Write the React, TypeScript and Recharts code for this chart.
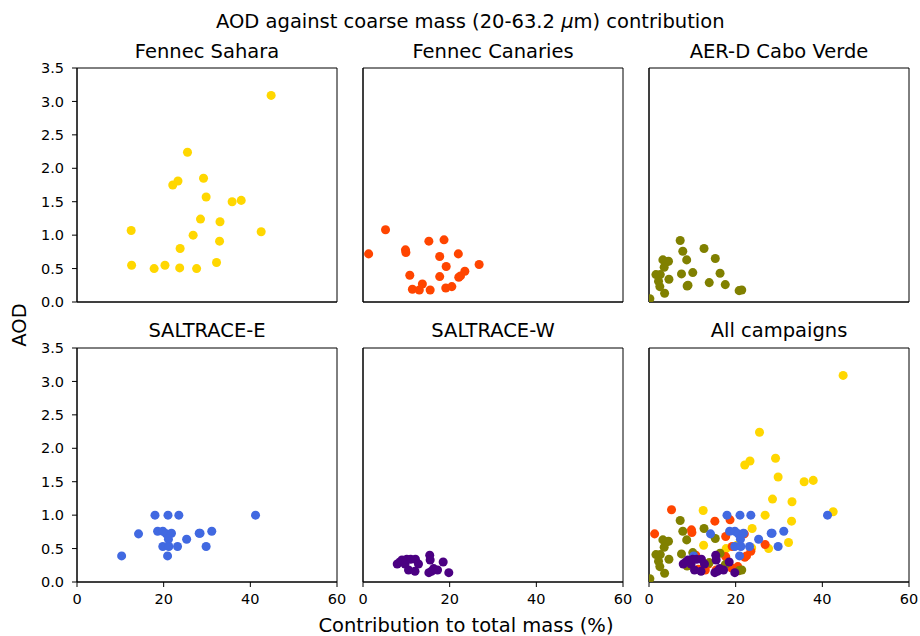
import React from "react";
import { ScatterChart, Scatter, XAxis, YAxis, ZAxis, ReferenceArea } from "recharts";

const saharaX = [44.8, 25.5, 23.3, 22.1, 29.2, 29.8, 35.8, 37.9, 28.5, 33.0, 12.5, 26.8, 42.5, 32.9, 23.8, 12.6, 17.8, 20.3, 23.7, 27.6, 32.2];
const saharaY = [3.09, 2.24, 1.81, 1.75, 1.85, 1.57, 1.50, 1.52, 1.24, 1.20, 1.07, 1.00, 1.05, 0.91, 0.80, 0.55, 0.50, 0.55, 0.51, 0.50, 0.59];

const canariesX = [1.3, 5.2, 9.8, 9.9, 10.8, 11.4, 13.0, 13.7, 15.5, 15.2, 17.7, 17.7, 18.7, 19.2, 19.1, 20.5, 22.0, 22.1, 22.5, 23.5, 26.8];
const canariesY = [0.72, 1.08, 0.78, 0.74, 0.40, 0.19, 0.18, 0.27, 0.18, 0.91, 0.68, 0.38, 0.93, 0.53, 0.21, 0.23, 0.72, 0.37, 0.39, 0.46, 0.56];

const caboX = [0.2, 7.2, 7.8, 12.7, 8.7, 15.3, 3.2, 4.5, 4.1, 3.5, 1.6, 2.6, 2.2, 2.5, 3.6, 4.6, 7.5, 10.1, 8.8, 9.0, 13.9, 16.4, 17.6, 20.8, 21.4];
const caboY = [0.05, 0.92, 0.76, 0.80, 0.63, 0.65, 0.63, 0.61, 0.60, 0.52, 0.41, 0.41, 0.31, 0.23, 0.13, 0.34, 0.42, 0.44, 0.24, 0.25, 0.29, 0.43, 0.26, 0.17, 0.18];

const saltEX = [10.3, 14.2, 18.0, 21.0, 23.5, 41.2, 18.6, 19.8, 20.6, 21.8, 21.1, 19.8, 21.2, 20.9, 23.2, 25.3, 28.2, 28.4, 31.1, 29.8];
const saltEY = [0.39, 0.72, 1.0, 1.0, 1.0, 1.0, 0.76, 0.76, 0.72, 0.73, 0.64, 0.53, 0.53, 0.39, 0.53, 0.64, 0.73, 0.73, 0.76, 0.53];

const saltWX = [7.9, 8.5, 9.0, 9.7, 10.1, 11.0, 12.1, 12.8, 10.5, 12.0, 15.4, 15.5, 15.2, 15.8, 16.3, 17.2, 18.5, 19.8];
const saltWY = [0.27, 0.30, 0.33, 0.27, 0.34, 0.34, 0.34, 0.27, 0.18, 0.16, 0.40, 0.33, 0.14, 0.16, 0.20, 0.18, 0.30, 0.14];

const xTicks = [0, 20, 40, 60];
const yTicks = [0, 0.5, 1.0, 1.5, 2.0, 2.5, 3.0, 3.5];

const mainTitle = "AOD against coarse mass (20-63.2 ";
const xLabel = "Contribution to total mass (%)";
const yLabel = "AOD";

const toPts = (xs: number[], ys: number[]) => xs.map((x, i) => ({ x, y: ys[i] }));

const campaigns = [
  { name: "Fennec Sahara", color: "#FFD700", data: toPts(saharaX, saharaY) },
  { name: "Fennec Canaries", color: "#FF4500", data: toPts(canariesX, canariesY) },
  { name: "AER-D Cabo Verde", color: "#808000", data: toPts(caboX, caboY) },
  { name: "SALTRACE-E", color: "#4169E1", data: toPts(saltEX, saltEY) },
  { name: "SALTRACE-W", color: "#4B0082", data: toPts(saltWX, saltWY) },
];

const FONT = "'DejaVu Sans', sans-serif";
const PW = 260;
const PH = 234;
const colLeft = [77, 363, 649];
const rowTop = [68, 347.5];
const ML = 60;
const MT = 10;
const MR = 10;
const MB = 34;

type Series = { name: string; color: string; data: { x: number; y: number }[] };

function Panel({ series, showXLabels, showYLabels, left, top }: { series: Series[]; showXLabels: boolean; showYLabels: boolean; left: number; top: number }) {
  const tickStyle = { fill: "#000", fontSize: 14.5, fontFamily: FONT };
  return (
    <div style={{ position: "absolute", left: left - ML, top: top - MT }}>
      <ScatterChart width={ML + PW + MR} height={MT + PH + MB} margin={{ top: MT, right: MR, bottom: 0, left: 0 }}>
        <XAxis
          dataKey="x"
          type="number"
          domain={[0, 60]}
          ticks={xTicks}
          height={MB}
          tickSize={5}
          tickMargin={7}
          stroke="#000"
          tick={showXLabels ? tickStyle : false}
          tickLine={{ stroke: "#000" }}
          allowDataOverflow
        />
        <YAxis
          dataKey="y"
          type="number"
          domain={[0, 3.5]}
          ticks={yTicks}
          width={ML}
          tickSize={5}
          tickMargin={8}
          stroke="#000"
          tick={showYLabels ? tickStyle : false}
          tickLine={{ stroke: "#000" }}
          tickFormatter={(v: number) => v.toFixed(1)}
          allowDataOverflow
        />
        <ZAxis range={[66, 66]} />
        <ReferenceArea x1={0} x2={60} y1={0} y2={3.5} fill="none" fillOpacity={0} stroke="#000" strokeWidth={1} ifOverflow="visible" />
        {series.map((s) => (
          <Scatter key={s.name} name={s.name} data={s.data} fill={s.color} isAnimationActive={false} />
        ))}
      </ScatterChart>
    </div>
  );
}

const titleStyle = (cx: number, cy: number): React.CSSProperties => ({
  position: "absolute",
  left: cx - 250,
  width: 500,
  top: cy - 13,
  height: 26,
  lineHeight: "26px",
  textAlign: "center",
  fontFamily: FONT,
  fontSize: 19.5,
  color: "#000",
  whiteSpace: "nowrap",
});

export default function App() {
  const panels = [
    { title: campaigns[0].name, series: [campaigns[0]], r: 0, c: 0 },
    { title: campaigns[1].name, series: [campaigns[1]], r: 0, c: 1 },
    { title: campaigns[2].name, series: [campaigns[2]], r: 0, c: 2 },
    { title: campaigns[3].name, series: [campaigns[3]], r: 1, c: 0 },
    { title: campaigns[4].name, series: [campaigns[4]], r: 1, c: 1 },
    { title: "All campaigns", series: campaigns, r: 1, c: 2 },
  ];
  return (
    <div style={{ position: "absolute", left: 0, top: 0, width: 920, height: 636, background: "#fff", overflow: "hidden" }}>
      <div style={titleStyle(466, 22)}>
        {mainTitle}
        <span style={{ fontStyle: "italic" }}>μ</span>m) contribution
      </div>
      {panels.map((p) => (
        <React.Fragment key={p.title}>
          <div style={titleStyle(colLeft[p.c] + PW / 2, p.r === 0 ? 52 : 331)}>{p.title}</div>
          <Panel series={p.series} showXLabels={p.r === 1} showYLabels={p.c === 0} left={colLeft[p.c]} top={rowTop[p.r]} />
        </React.Fragment>
      ))}
      <div style={titleStyle(466, 626)}>{xLabel}</div>
      <div style={{ ...titleStyle(20, 325), transform: "rotate(-90deg)" }}>{yLabel}</div>
    </div>
  );
}
